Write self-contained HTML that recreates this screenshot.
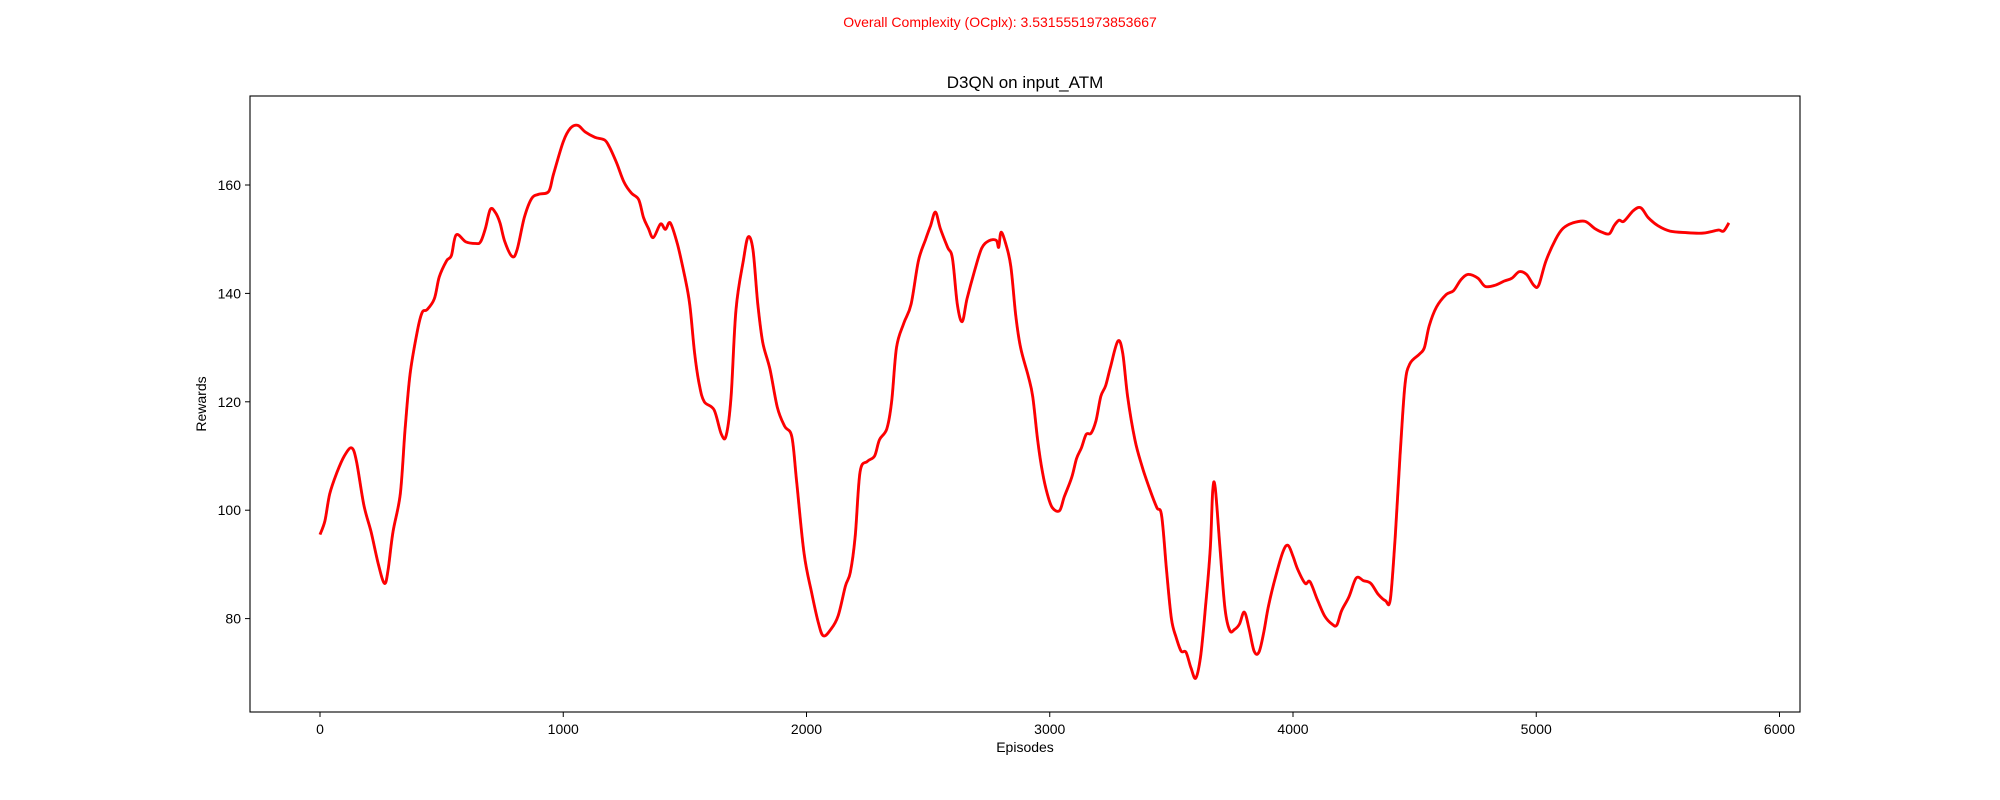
<!DOCTYPE html>
<html><head><meta charset="utf-8"><style>
html,body{margin:0;padding:0;background:#fff;}
svg{display:block;font-family:"Liberation Sans","DejaVu Sans",sans-serif;}
</style></head><body>
<svg id="chart" width="2000" height="800" viewBox="0 0 2000 800">
<rect width="2000" height="800" fill="#fff"/>
<text x="1000" y="27" text-anchor="middle" font-size="14" fill="red">Overall Complexity (OCplx): 3.5315551973853667</text>
<text x="1025" y="88" text-anchor="middle" font-size="17" fill="#000">D3QN on input_ATM</text>
<g id="ticks"></g>
<g id="plot"></g>
<rect x="250" y="96" width="1550" height="616" fill="none" stroke="#000" stroke-width="1.1"/>
<text x="1025" y="752" text-anchor="middle" font-size="14">Episodes</text>
<text transform="translate(206,404) rotate(-90)" text-anchor="middle" font-size="14">Rewards</text>
</svg>
<script>
const episodes=[0,20,40,70,100,130,150,180,210,240,265,280,300,330,350,370,400,420,440,470,490,520,540,560,600,640,660,680,700,720,740,760,790,810,840,870,900,940,960,1000,1030,1060,1090,1130,1170,1190,1220,1250,1280,1310,1330,1350,1370,1400,1420,1440,1470,1500,1520,1540,1560,1580,1620,1650,1670,1690,1710,1740,1760,1780,1800,1820,1850,1880,1910,1940,1960,1990,2020,2050,2070,2100,2130,2160,2180,2200,2220,2250,2280,2300,2330,2350,2370,2400,2430,2460,2490,2510,2530,2550,2580,2600,2620,2640,2660,2690,2720,2750,2780,2790,2800,2820,2840,2860,2880,2910,2930,2950,2970,2990,3010,3040,3060,3090,3110,3130,3150,3170,3190,3210,3230,3250,3280,3300,3320,3350,3380,3410,3440,3460,3480,3500,3520,3540,3560,3580,3600,3620,3640,3660,3670,3680,3700,3720,3740,3760,3780,3800,3820,3840,3860,3880,3900,3930,3960,3980,4000,4020,4050,4070,4100,4130,4160,4180,4200,4230,4260,4290,4320,4350,4380,4400,4420,4440,4460,4480,4520,4540,4560,4590,4630,4660,4690,4720,4760,4790,4830,4870,4900,4930,4960,4990,5010,5040,5080,5110,5150,5200,5240,5270,5300,5320,5340,5360,5400,5430,5460,5500,5550,5620,5680,5720,5750,5770,5792];
const rewards=[95.5,98,103,107,110,111.5,109,101,96,90,86.5,89,96,103,115,125,133,136.5,137,139,143,146,147,150.8,149.5,149.2,149.5,152,155.5,155,153,149.5,146.8,148,154,157.5,158.3,158.8,162,168,170.5,171,169.8,168.8,168.3,167,164,160.5,158.5,157.3,154,152,150.3,152.8,151.8,153,149,143,138,129,123,120,118.5,114,113.8,121,137,146,150.4,148,138,131,126,119,115.5,113.5,105,92,85,79,76.8,78,80.5,86,88.5,95,107,109,110,113,115,120,130,134.5,138,146,150,152.5,155,152,148.5,146.5,138,134.8,139,144,148.3,149.7,149.8,148.5,151.3,149,145,136,130,125,121,113,107,103,100.5,99.9,102.5,106,109.5,111.5,114,114.2,116.5,121,123,126.5,131.2,129,121,113,108,104,100.5,99,89,80,76.5,74,73.8,71,69,73,82,93,103.5,104.2,93,82,77.8,78,79,81.2,78,74,73.8,77.5,82.5,88,92.5,93.5,91.5,89,86.5,86.8,83.5,80.5,79,78.8,81.5,84,87.5,87,86.5,84.5,83.3,83.5,95,110,123,127,128.8,130,134,137.5,139.8,140.5,142.5,143.5,142.8,141.3,141.5,142.3,142.8,144,143.5,141.5,141.5,146,150,152,153,153.3,152,151.3,151,152.5,153.5,153.3,155.3,155.8,154,152.5,151.5,151.2,151.1,151.4,151.7,151.5,153];
const xTicks=[0,1000,2000,3000,4000,5000,6000];
const yTicks=[80,100,120,140,160];
const xs=v=>320+v*0.24325;
const ys=v=>618.6-(v-80)*5.42;
const NS='http://www.w3.org/2000/svg';
const tg=document.getElementById('ticks');
xTicks.forEach(t=>{
  const l=document.createElementNS(NS,'line');
  l.setAttribute('x1',xs(t));l.setAttribute('x2',xs(t));l.setAttribute('y1',712);l.setAttribute('y2',717);l.setAttribute('stroke','#000');
  
  
  tg.appendChild(l);
  const tx=document.createElementNS(NS,'text');
  tx.setAttribute('x',xs(t));tx.setAttribute('y',734);tx.setAttribute('text-anchor','middle');tx.setAttribute('font-size','14');
  tx.textContent=t;
  
  
  tg.appendChild(tx);
});
yTicks.forEach(t=>{
  const l=document.createElementNS(NS,'line');
  l.setAttribute('x1',245);l.setAttribute('x2',250);l.setAttribute('y1',ys(t));l.setAttribute('y2',ys(t));l.setAttribute('stroke','#000');
  
  
  tg.appendChild(l);
  const tx=document.createElementNS(NS,'text');
  tx.setAttribute('x',241);tx.setAttribute('y',ys(t)+5);tx.setAttribute('text-anchor','end');tx.setAttribute('font-size','14');
  tx.textContent=t;
  
  
  tg.appendChild(tx);
});
const P=episodes.map((e,i)=>[xs(e),ys(rewards[i])]);
let d='M'+P[0][0].toFixed(1)+','+P[0][1].toFixed(1);
for(let i=0;i<P.length-1;i++){
  const p0=P[Math.max(0,i-1)],p1=P[i],p2=P[i+1],p3=P[Math.min(P.length-1,i+2)];
  const c1x=p1[0]+(p2[0]-p0[0])/6,c1y=p1[1]+(p2[1]-p0[1])/6;
  const c2x=p2[0]-(p3[0]-p1[0])/6,c2y=p2[1]-(p3[1]-p1[1])/6;
  d+=' C'+c1x.toFixed(1)+','+c1y.toFixed(1)+' '+c2x.toFixed(1)+','+c2y.toFixed(1)+' '+p2[0].toFixed(1)+','+p2[1].toFixed(1);
}
const band=document.createElementNS(NS,'path');
band.setAttribute('d',d);band.setAttribute('fill','none');band.setAttribute('stroke','#c8d4ee');band.setAttribute('stroke-width','3');


document.getElementById('plot').appendChild(band);
const line=document.createElementNS(NS,'path');
line.setAttribute('d',d);line.setAttribute('fill','none');line.setAttribute('stroke','#ff0000');line.setAttribute('stroke-width','2.8');line.setAttribute('stroke-linejoin','round');


document.getElementById('plot').appendChild(line);
</script>
</body></html>
